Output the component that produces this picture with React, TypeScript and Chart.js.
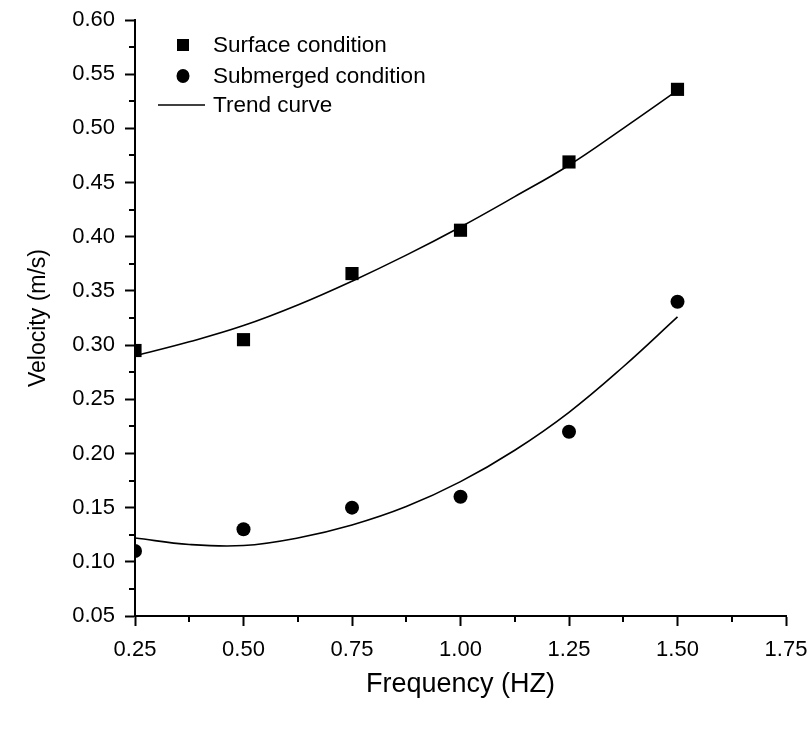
import React, { useEffect, useRef } from "react";
import { Chart, registerables } from "chart.js";

Chart.register(...registerables);

const frequencies = [0.25, 0.5, 0.75, 1.0, 1.25, 1.5];
const surfaceVelocity = [0.295, 0.305, 0.366, 0.406, 0.469, 0.536];
const submergedVelocity = [0.11, 0.13, 0.15, 0.16, 0.22, 0.34];

// Trend curves
const trendFrequencies = [0.25, 0.375, 0.5, 0.625, 0.75, 0.875, 1.0, 1.125, 1.25, 1.375, 1.5];
const surfaceTrend = [0.29, 0.303, 0.318, 0.337, 0.359, 0.383, 0.409, 0.437, 0.466, 0.5, 0.535];
const submergedTrend = [0.122, 0.116, 0.115, 0.122, 0.134, 0.151, 0.174, 0.203, 0.238, 0.28, 0.326];

// Axis ticks
const xTicks = [0.25, 0.5, 0.75, 1.0, 1.25, 1.5, 1.75];
const yTicks = [0.05, 0.1, 0.15, 0.2, 0.25, 0.3, 0.35, 0.4, 0.45, 0.5, 0.55, 0.6];

const legendLabels = ["Surface condition", "Submerged condition", "Trend curve"];

const FONT = "'Liberation Sans', Arial, sans-serif";

const minorTicksPlugin = {
  id: "minorTicks",
  afterDraw(chart: any) {
    const ctx = chart.ctx;
    const xs = chart.scales.x;
    const ys = chart.scales.y;
    ctx.save();
    ctx.strokeStyle = "#000";
    ctx.lineWidth = 2;
    for (let i = 0; i < xTicks.length - 1; i++) {
      const v = (xTicks[i] + xTicks[i + 1]) / 2;
      const px = Math.round(xs.getPixelForValue(v));
      ctx.beginPath();
      ctx.moveTo(px, ys.bottom);
      ctx.lineTo(px, ys.bottom + 6);
      ctx.stroke();
    }
    for (let i = 0; i < yTicks.length - 1; i++) {
      const v = (yTicks[i] + yTicks[i + 1]) / 2;
      const py = Math.round(ys.getPixelForValue(v));
      ctx.beginPath();
      ctx.moveTo(xs.left, py);
      ctx.lineTo(xs.left - 6, py);
      ctx.stroke();
    }
    ctx.restore();
  },
};

const insideLegendPlugin = {
  id: "insideLegend",
  afterDraw(chart: any) {
    const ctx = chart.ctx;
    const { left, top } = chart.chartArea;
    const mx = left + 48;
    const tx = left + 78;
    const rows = [top + 25, top + 56, top + 85];
    ctx.save();
    ctx.fillStyle = "#000";
    ctx.strokeStyle = "#000";
    // square
    ctx.fillRect(mx - 6, rows[0] - 6, 12, 12);
    // circle
    ctx.beginPath();
    ctx.ellipse(mx, rows[1], 6.5, 7, 0, 0, Math.PI * 2);
    ctx.fill();
    // line
    ctx.lineWidth = 1.5;
    ctx.beginPath();
    ctx.moveTo(left + 23, rows[2]);
    ctx.lineTo(left + 70, rows[2]);
    ctx.stroke();
    ctx.font = `22.5px ${FONT}`;
    ctx.textBaseline = "middle";
    ctx.textAlign = "left";
    legendLabels.forEach((t, i) => ctx.fillText(t, tx, rows[i] + 1));
    ctx.restore();
  },
};

export default function App() {
  const canvasRef = useRef<HTMLCanvasElement | null>(null);

  useEffect(() => {
    if (!canvasRef.current) return;
    const toPts = (xs: number[], ys: number[]) => xs.map((x, i) => ({ x, y: ys[i] }));
    const chart = new Chart(canvasRef.current, {
      type: "scatter",
      data: {
        datasets: [
          {
            label: legendLabels[0],
            data: toPts(frequencies, surfaceVelocity),
            pointStyle: "rect",
            pointRadius: 9.3,
            backgroundColor: "#000",
            borderColor: "#000",
            borderWidth: 0,
            clip: 0,
          },
          {
            label: legendLabels[1],
            data: toPts(frequencies, submergedVelocity),
            pointStyle: "circle",
            pointRadius: 7,
            backgroundColor: "#000",
            borderColor: "#000",
            borderWidth: 0,
            clip: 0,
          },
          {
            label: legendLabels[2],
            data: toPts(trendFrequencies, surfaceTrend),
            showLine: true,
            pointRadius: 0,
            borderColor: "#000",
            borderWidth: 1.6,
            tension: 0.4,
          },
          {
            label: "Trend curve (submerged)",
            data: toPts(trendFrequencies, submergedTrend),
            showLine: true,
            pointRadius: 0,
            borderColor: "#000",
            borderWidth: 1.6,
            tension: 0.4,
          },
        ],
      },
      options: {
        animation: false,
        responsive: false,
        layout: { padding: { top: 20, right: 26, left: 0, bottom: 0 } },
        plugins: {
          legend: { display: false },
          tooltip: { enabled: false },
        },
        scales: {
          x: {
            type: "linear",
            min: 0.25,
            max: 1.75,
            afterBuildTicks: (scale: any) => {
              scale.ticks = xTicks.map((v) => ({ value: v }));
            },
            afterFit: (scale: any) => {
              scale.height = 116;
              scale.paddingRight = 20;
              scale.paddingLeft = 0;
            },
            ticks: {
              color: "#000",
              font: { family: FONT, size: 22 },
              padding: 11,
              callback: (v: any) => Number(v).toFixed(2),
            },
            grid: {
              drawOnChartArea: false,
              drawTicks: true,
              tickLength: 10,
              tickWidth: 2,
              tickColor: "#000",
            },
            border: { display: true, color: "#000", width: 2 },
            title: {
              display: true,
              text: "Frequency (HZ)",
              color: "#000",
              font: { family: FONT, size: 27 },
              padding: { top: 0, bottom: 31 },
            },
          },
          y: {
            type: "linear",
            min: 0.05,
            max: 0.6,
            afterBuildTicks: (scale: any) => {
              scale.ticks = yTicks.map((v) => ({ value: v }));
            },
            afterFit: (scale: any) => {
              scale.width = 135;
              scale.paddingTop = 0;
              scale.paddingBottom = 0;
            },
            ticks: {
              color: "#000",
              font: { family: FONT, size: 22 },
              padding: 10,
              callback: (v: any) => Number(v).toFixed(2),
            },
            grid: {
              drawOnChartArea: false,
              drawTicks: true,
              tickLength: 10,
              tickWidth: 2,
              tickColor: "#000",
            },
            border: { display: true, color: "#000", width: 2 },
            title: {
              display: true,
              text: "Velocity (m/s)",
              color: "#000",
              font: { family: FONT, size: 23 },
              padding: { top: 25, bottom: 0 },
            },
          },
        },
      },
      plugins: [minorTicksPlugin, insideLegendPlugin],
    } as any);
    return () => chart.destroy();
  }, []);

  return (
    <div style={{ position: "absolute", left: 0, top: 0, width: 812, height: 732, background: "#fff" }}>
      <canvas ref={canvasRef} width={812} height={732} style={{ display: "block" }} />
    </div>
  );
}
